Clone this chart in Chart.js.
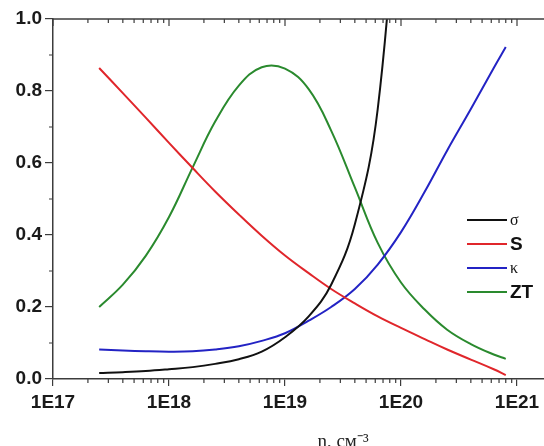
<!DOCTYPE html>
<html>
<head>
<meta charset="utf-8">
<script src="https://cdn.jsdelivr.net/npm/chart.js@4.4.1/dist/chart.umd.min.js"></script>
<style>
  html, body { margin: 0; padding: 0; background: #fff; }
  #wrap { width: 544px; height: 446px; overflow: hidden; position: relative; }
  canvas { display: block; }
</style>
</head>
<body>
<div id="wrap"><canvas id="chart" width="680" height="446"></canvas></div>
<script>
// carrier concentration, cm^-3
const nValues = [2.5e17, 4e17, 6.3e17, 1e18, 1.6e18, 2.5e18, 4e18, 6.3e18, 1e19,
  1.6e19, 2.5e19, 4e19, 6.3e19, 1e20, 1.6e20, 2.5e20, 4e20, 6.3e20, 8e20];

const sigma = [0.017, 0.019, 0.022, 0.027, 0.033, 0.042, 0.055, 0.076, 0.116,
  0.174, 0.262, 0.430, 0.750, 1.50, null, null, null, null, null];
const seebeck = [0.864, 0.794, 0.726, 0.656, 0.586, 0.521, 0.457, 0.398, 0.343,
  0.294, 0.250, 0.210, 0.174, 0.142, 0.111, 0.082, 0.054, 0.027, 0.011];
const kappa = [0.082, 0.079, 0.077, 0.076, 0.077, 0.082, 0.091, 0.106, 0.127,
  0.162, 0.200, 0.250, 0.318, 0.408, 0.520, 0.635, 0.750, 0.864, 0.922];
const zt = [0.200, 0.262, 0.342, 0.450, 0.588, 0.715, 0.815, 0.866, 0.862,
  0.805, 0.690, 0.532, 0.378, 0.268, 0.193, 0.137, 0.097, 0.068, 0.056];

const seriesLabels = ['σ', 'S', 'κ', 'ZT'];
const seriesColors = ['#111111', '#e0262b', '#2323c4', '#2a8a2e'];
const decadeTicks = [1e17, 1e18, 1e19, 1e20, 1e21, 1e22];
const yMinorTicks = [0.1, 0.3, 0.5, 0.7, 0.9];

const axisColor = '#3c3c3c';
const labelFont = { family: "'Liberation Sans', Arial, sans-serif", size: 19, weight: 'bold' };

function toPoints(values) {
  return nValues.map((n, i) => ({ x: n, y: values[i] }));
}

// minor ticks, top frame line and the in-plot legend
const framePlugin = {
  id: 'frame',
  afterDraw(chart) {
    const { ctx, chartArea: a, scales: { x, y } } = chart;
    ctx.save();
    ctx.strokeStyle = axisColor;
    ctx.lineWidth = 1.5;
    ctx.beginPath();
    ctx.moveTo(a.left, a.top);
    ctx.lineTo(a.right, a.top);
    ctx.stroke();

    ctx.lineWidth = 1.2;
    ctx.beginPath();
    decadeTicks.forEach(d => {
      const px = x.getPixelForValue(d);
      ctx.moveTo(px, a.top); ctx.lineTo(px, a.top + 7);
      for (let k = 2; k <= 9; k++) {
        const v = d * k;
        if (v > x.max) break;
        const mx = x.getPixelForValue(v);
        ctx.moveTo(mx, a.bottom); ctx.lineTo(mx, a.bottom + 4);
        ctx.moveTo(mx, a.top); ctx.lineTo(mx, a.top + 4);
      }
    });
    yMinorTicks.forEach(v => {
      const py = y.getPixelForValue(v);
      ctx.moveTo(a.left - 4, py); ctx.lineTo(a.left, py);
    });
    ctx.stroke();

    // legend
    const lx = a.left + 414, ly = a.top + 201, gap = 24;
    chart.data.datasets.forEach((ds, i) => {
      const yy = ly + i * gap;
      ctx.strokeStyle = ds.borderColor;
      ctx.lineWidth = 2;
      ctx.beginPath();
      ctx.moveTo(lx, yy); ctx.lineTo(lx + 40, yy);
      ctx.stroke();
      const serif = ds.label === 'σ' || ds.label === 'κ';
      ctx.font = serif ? "16px 'Liberation Serif', 'Times New Roman', serif"
                       : "bold 19px 'Liberation Sans', Arial, sans-serif";
      ctx.fillStyle = '#111';
      ctx.textBaseline = 'middle';
      ctx.fillText(ds.label, lx + 43, yy + 1);
    });
    ctx.restore();
  }
};

new Chart(document.getElementById('chart'), {
  type: 'line',
  data: {
    datasets: [sigma, seebeck, kappa, zt].map((vals, i) => ({
      label: seriesLabels[i],
      data: toPoints(vals),
      borderColor: seriesColors[i],
      borderWidth: 2,
      pointRadius: 0,
      fill: false,
      spanGaps: false,
      tension: 0.4
    }))
  },
  options: {
    responsive: false,
    animation: false,
    devicePixelRatio: 1,
    layout: { padding: { top: 19, right: 47, bottom: 0, left: 0 } },
    plugins: { legend: { display: false }, tooltip: { enabled: false } },
    scales: {
      x: {
        type: 'logarithmic',
        min: 1e17,
        max: 1e22,
        afterBuildTicks: s => { s.ticks = decadeTicks.map(v => ({ value: v })); },
        afterFit: s => { s.height = 67; },
        border: { color: axisColor, width: 1.5 },
        grid: { drawOnChartArea: false, tickLength: 7, color: axisColor, lineWidth: 1.2 },
        ticks: {
          autoSkip: false,
          maxRotation: 0,
          padding: 5,
          color: '#1a1a1a',
          font: labelFont,
          callback: v => '1E' + Math.round(Math.log10(v))
        },
        title: {
          display: true,
          text: 'n, см⁻³',
          color: '#222',
          font: { family: "'Liberation Serif', 'Times New Roman', serif", size: 19 },
          padding: { top: 0, bottom: -7 }
        }
      },
      y: {
        min: 0,
        max: 1,
        afterFit: s => { s.width = 53; },
        border: { color: axisColor, width: 1.5 },
        grid: { drawOnChartArea: false, tickLength: 8, color: axisColor, lineWidth: 1.2 },
        ticks: {
          stepSize: 0.2,
          padding: 3,
          color: '#1a1a1a',
          font: labelFont,
          callback: v => v.toFixed(1)
        }
      }
    }
  },
  plugins: [framePlugin]
});
</script>
</body>
</html>
